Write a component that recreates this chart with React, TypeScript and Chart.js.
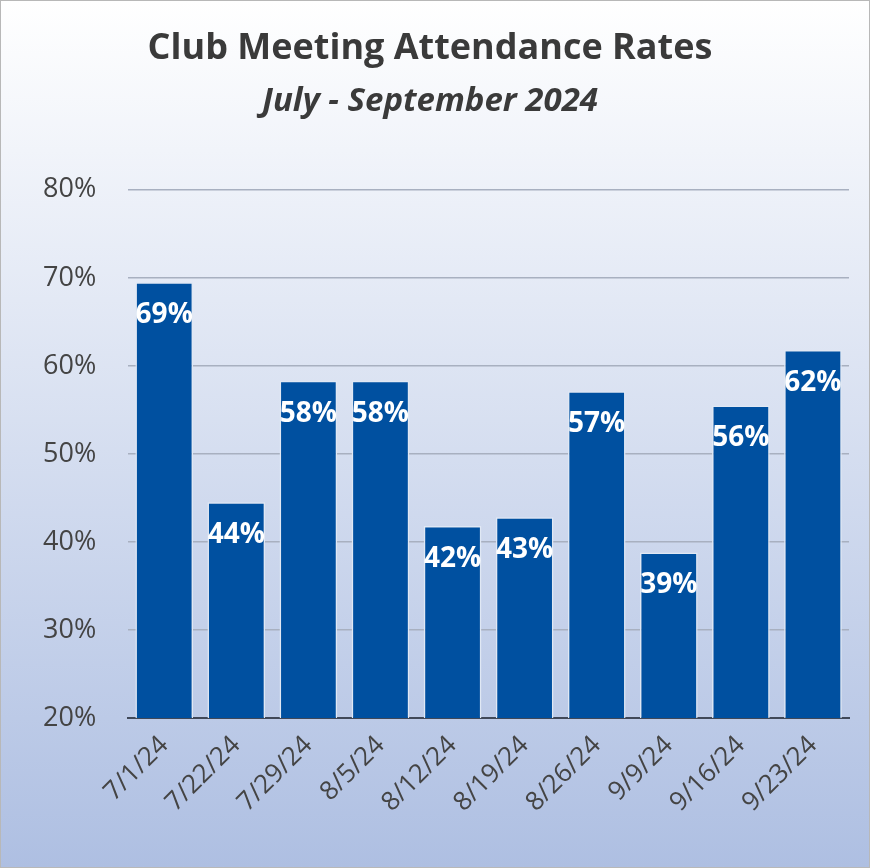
import React, { useEffect, useRef } from "react";
import { Chart, registerables } from "chart.js";
Chart.register(...registerables);

const categories = ["7/1/24", "7/22/24", "7/29/24", "8/5/24", "8/12/24", "8/19/24", "8/26/24", "9/9/24", "9/16/24", "9/23/24"];
const values = [69.5, 44.5, 58.3, 58.3, 41.8, 42.8, 57.1, 38.8, 55.5, 61.8];
const labels = ["69%", "44%", "58%", "58%", "42%", "43%", "57%", "39%", "56%", "62%"];
const yTicks = [20, 30, 40, 50, 60, 70, 80];

const labelPlugin = {
  id: "barLabels",
  afterDatasetsDraw(chart: any) {
    const { ctx } = chart;
    const meta = chart.getDatasetMeta(0);
    ctx.save();
    ctx.fillStyle = "#ffffff";
    ctx.font = "bold 28px 'Open Sans'";
    ctx.textAlign = "center";
    ctx.textBaseline = "middle";
    meta.data.forEach((bar: any, i: number) => {
      ctx.fillText(labels[i], bar.x, bar.y + 33);
    });
    ctx.restore();
  },
};

export default function App() {
  const ref = useRef<HTMLCanvasElement>(null);
  useEffect(() => {
    document.body.style.margin = "0";
    const chart = new Chart(ref.current!, {
      type: "bar",
      data: {
        labels: categories,
        datasets: [{
          data: values,
          backgroundColor: "#0050a0",
          borderColor: "#e0e8f4",
          borderWidth: 1.5,
          barPercentage: 0.8,
          categoryPercentage: 1,
        }],
      },
      options: {
        animation: false,
        responsive: false,
        layout: { padding: { left: 10, right: 20, top: 26, bottom: 45 } },
        plugins: {
          legend: { display: false },
          tooltip: { enabled: false },
          title: {
            display: true,
            text: "Club Meeting Attendance Rates",
            color: "#3a3a3a",
            font: { family: "'Open Sans'", size: 36, weight: "bold" },
            padding: { top: 0, bottom: 12 },
          },
          subtitle: {
            display: true,
            text: "July - September 2024",
            color: "#3a3a3a",
            font: { family: "'Open Sans'", size: 33, weight: "bold", style: "italic" },
            padding: { bottom: 68 },
          },
        },
        scales: {
          y: {
            min: 20, max: 80,
            afterBuildTicks: (s: any) => { s.ticks = yTicks.map((v) => ({ value: v })); },
            ticks: { callback: (v: any) => v + "%", color: "#444", font: { family: "'Open Sans'", size: 27 }, padding: 32 },
            grid: { color: "#a8b0c0", lineWidth: 1.5, drawTicks: false },
            border: { display: false },
          },
          x: {
            ticks: { color: "#444", font: { family: "'Open Sans'", size: 26 }, maxRotation: 45, minRotation: 45, padding: 4 },
            grid: { display: false },
            border: { color: "#404858", width: 2 },
          },
        },
      },
      plugins: [labelPlugin],
    });
    return () => chart.destroy();
  }, []);
  return (
    <div style={{ width: 870, height: 868, boxSizing: "border-box", border: "1px solid #b8b8b8", background: "linear-gradient(#ffffff 0%, #aebfe2 100%)" }}>
      <canvas ref={ref} width={868} height={866} />
    </div>
  );
}
